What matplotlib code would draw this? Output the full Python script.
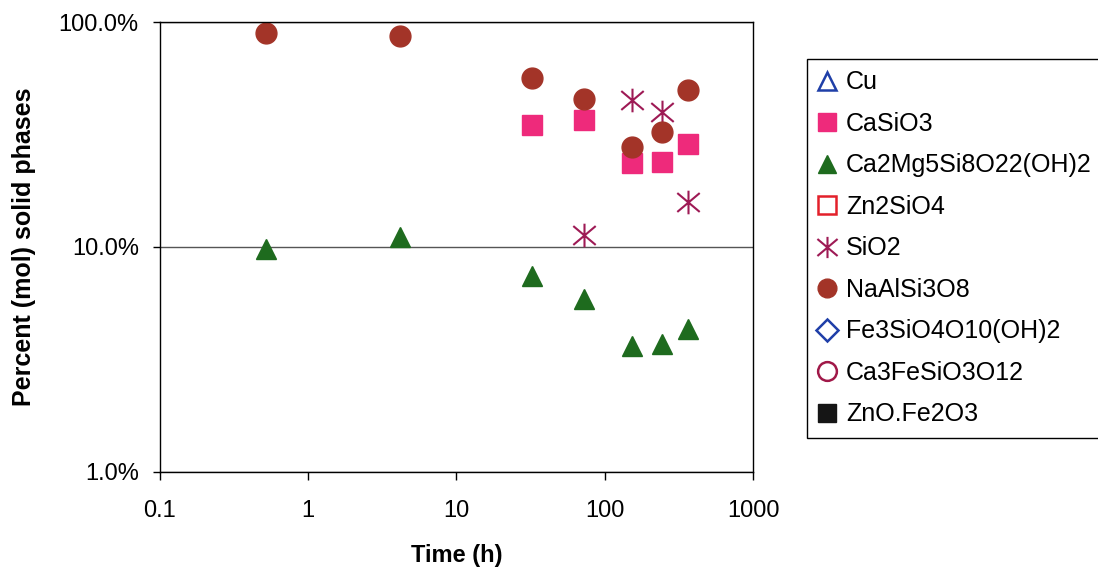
import matplotlib
matplotlib.use("Agg")
import matplotlib.pyplot as plt
from matplotlib.path import Path
from matplotlib.ticker import FixedLocator, FuncFormatter, NullLocator

plt.rcParams['font.family'] = ['Liberation Sans', 'DejaVu Sans']

# Sampling times (h)
time_h = [0.52, 4.2, 32.5, 73, 153, 243, 365]

# Mole percent of each solid phase
casio3_t = [32.5, 73, 153, 243, 365]
casio3 = [34.7, 36.7, 23.6, 23.9, 28.8]

tremolite = [9.8, 11.1, 7.4, 5.9, 3.63, 3.70, 4.34]

sio2_t = [73, 153, 243, 365]
sio2 = [11.3, 44.9, 40.0, 15.9]

albite = [89.0, 86.7, 56.1, 45.5, 27.7, 32.5, 50.0]

y_ticks = [1, 10, 100]
x_ticks = [0.1, 1, 10, 100, 1000]

# six-armed asterisk: a vertical stroke crossed by a wide X
star = Path(
    [(0, -1), (0, 1), (-0.95, -0.8), (0.95, 0.8), (-0.95, 0.8), (0.95, -0.8)],
    [Path.MOVETO, Path.LINETO, Path.MOVETO, Path.LINETO, Path.MOVETO, Path.LINETO],
)

fig = plt.figure(figsize=(10.98, 5.73), dpi=100)
ax = fig.add_axes([0.1454, 0.1763, 0.5404, 0.7853])

ms = 15
# phases listed in the legend without points in this range
ax.plot([], [], ls='none', marker='^', ms=ms, mfc='none', mec='#1f3fa8', mew=1.8, label='Cu')
ax.plot(casio3_t, casio3, ls='none', marker='s', ms=ms, mfc='#ee2a7b', mec='#ee2a7b', label='CaSiO3')
ax.plot(time_h, tremolite, ls='none', marker='^', ms=ms, mfc='#1e6b1e', mec='#1e6b1e', label='Ca2Mg5Si8O22(OH)2')
ax.plot([], [], ls='none', marker='s', ms=ms, mfc='none', mec='#e3202a', mew=1.8, label='Zn2SiO4')
ax.plot(sio2_t, sio2, ls='none', marker=star, ms=17, mfc='none', mec='#9e1a55', mew=1.5, label='SiO2')
ax.plot(time_h, albite, ls='none', marker='o', ms=ms, mfc='#a33428', mec='#a33428', label='NaAlSi3O8')
ax.plot([], [], ls='none', marker='D', ms=ms * 0.85, mfc='none', mec='#1f3fa8', mew=1.8, label='Fe3SiO4O10(OH)2')
ax.plot([], [], ls='none', marker='o', ms=ms, mfc='none', mec='#a01848', mew=1.8, label='Ca3FeSiO3O12')
ax.plot([], [], ls='none', marker='s', ms=ms, mfc='#151515', mec='#151515', label='ZnO.Fe2O3')

ax.set_xscale('log')
ax.set_yscale('log')
ax.set_xlim(0.1, 1000)
ax.set_ylim(1, 100)

ax.xaxis.set_major_locator(FixedLocator(x_ticks))
ax.xaxis.set_minor_locator(NullLocator())
ax.xaxis.set_major_formatter(FuncFormatter(lambda v, p: f"{v:g}"))
ax.yaxis.set_major_locator(FixedLocator(y_ticks))
ax.yaxis.set_minor_locator(NullLocator())
ax.yaxis.set_major_formatter(FuncFormatter(lambda v, p: f"{v:.1f}%"))

ax.yaxis.grid(True, color='#555555', lw=1.0)
ax.set_axisbelow(True)
for s in ax.spines.values():
    s.set_color('black')
    s.set_linewidth(1.0)

ax.tick_params(axis='x', direction='out', length=6, width=1, pad=14, labelsize=17)
ax.tick_params(axis='y', direction='out', length=5, width=1, pad=10, labelsize=17)

ax.set_xlabel('Time (h)', fontsize=17, fontweight='bold', labelpad=16)
ax.set_ylabel('Percent (mol) solid phases', fontsize=18, fontweight='bold', labelpad=16)

leg = fig.legend(loc='upper left', bbox_to_anchor=(0.735, 0.897), fontsize=18,
                 frameon=True, fancybox=False, edgecolor='black', framealpha=1,
                 markerscale=0.9, handlelength=0.7, handletextpad=0.4,
                 labelspacing=0.7, borderpad=0.45, borderaxespad=0)
leg.get_frame().set_linewidth(1.0)

fig.savefig('out.png', dpi=100, facecolor='white')
